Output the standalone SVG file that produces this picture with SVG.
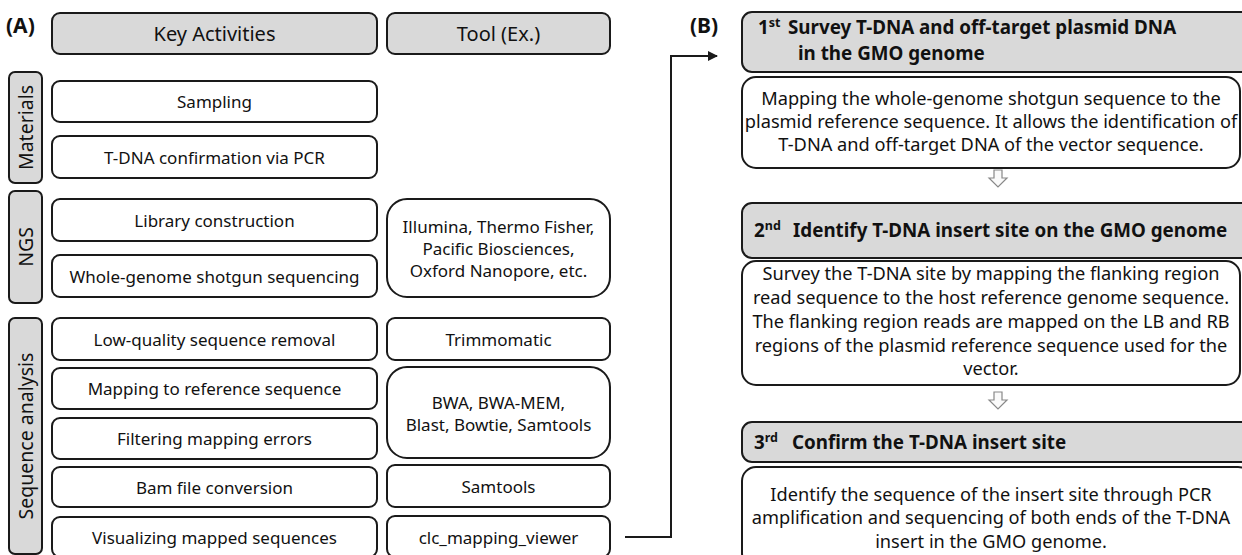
<svg xmlns="http://www.w3.org/2000/svg" width="1242" height="555" viewBox="0 0 1242 555">
<style>
.box{fill:#fff;stroke:#1a1a1a;stroke-width:2}
.hdr{fill:#d9d9d9;stroke:#1a1a1a;stroke-width:2}
.t{font-family:"Noto Sans","Open Sans",sans-serif;font-size:17px;fill:#111;text-anchor:middle;dominant-baseline:central}
.h{font-size:20px}
.c{font-size:19.5px}
.r{font-size:18.2px}
.b{font-family:"Noto Sans","Open Sans",sans-serif;font-size:18.8px;font-weight:bold;fill:#111}
.lbl{font-family:"Noto Sans","Open Sans",sans-serif;font-size:21px;font-weight:bold;fill:#111}
.sup{font-size:12.5px}
.conn{fill:none;stroke:#1a1a1a;stroke-width:2}
.darr{fill:#fafafa;stroke:#888;stroke-width:1.2}
</style>
<defs>
<marker id="ah" viewBox="0 0 10 10" refX="9" refY="5" markerWidth="5" markerHeight="5" orient="auto" markerUnits="strokeWidth">
<path d="M0,0 L10,5 L0,10 z" fill="#1a1a1a"/>
</marker>
</defs>

<text class="lbl" x="6" y="33">(A)</text>
<text class="lbl" x="690" y="33">(B)</text>

<g id="hdr-key"><rect class="hdr" x="52" y="13" width="325" height="41" rx="8"/><text class="t h" x="214.5" y="33.5">Key Activities</text></g>
<g id="hdr-tool"><rect class="hdr" x="387" y="13" width="223" height="41" rx="8"/><text class="t h" x="498.5" y="33.5">Tool (Ex.)</text></g>

<g id="cat-materials"><rect class="hdr" x="9" y="72" width="33" height="111" rx="6"/><text class="t c" transform="translate(25.5,127.5) rotate(-90)">Materials</text></g>
<g id="cat-ngs"><rect class="hdr" x="9" y="191" width="33" height="112" rx="6"/><text class="t c" transform="translate(25.5,247) rotate(-90)">NGS</text></g>
<g id="cat-seq"><rect class="hdr" x="9" y="318" width="33" height="236" rx="6"/><text class="t c" transform="translate(25.5,436) rotate(-90)">Sequence analysis</text></g>

<g id="act-sampling"><rect class="box" x="52" y="81" width="325" height="41" rx="8"/><text class="t" x="214.5" y="101.5">Sampling</text></g>
<g id="act-pcr"><rect class="box" x="52" y="136" width="325" height="42" rx="8"/><text class="t" x="214.5" y="157">T-DNA confirmation via PCR</text></g>
<g id="act-lib"><rect class="box" x="52" y="199" width="325" height="42" rx="8"/><text class="t" x="214.5" y="220">Library construction</text></g>
<g id="act-wgs"><rect class="box" x="52" y="255" width="325" height="42" rx="8"/><text class="t" x="214.5" y="276">Whole-genome shotgun sequencing</text></g>
<g id="act-lowq"><rect class="box" x="52" y="318" width="325" height="42" rx="8"/><text class="t" x="214.5" y="339">Low-quality sequence removal</text></g>
<g id="act-map"><rect class="box" x="52" y="368" width="325" height="41" rx="8"/><text class="t" x="214.5" y="388.5">Mapping to reference sequence</text></g>
<g id="act-filter"><rect class="box" x="52" y="418" width="325" height="41" rx="8"/><text class="t" x="214.5" y="438.5">Filtering mapping errors</text></g>
<g id="act-bam"><rect class="box" x="52" y="467" width="325" height="40" rx="8"/><text class="t" x="214.5" y="487">Bam file conversion</text></g>
<g id="act-vis"><rect class="box" x="52" y="517" width="325" height="40" rx="8"/><text class="t" x="214.5" y="537">Visualizing mapped sequences</text></g>

<g id="tool-ngs"><rect class="box" x="387" y="199" width="223" height="98" rx="20"/>
<text class="t" x="498.5" y="226">Illumina, Thermo Fisher,</text>
<text class="t" x="498.5" y="248">Pacific Biosciences,</text>
<text class="t" x="498.5" y="270">Oxford Nanopore, etc.</text></g>
<g id="tool-trim"><rect class="box" x="387" y="318" width="223" height="42" rx="8"/><text class="t" x="498.5" y="339">Trimmomatic</text></g>
<g id="tool-bwa"><rect class="box" x="387" y="367" width="223" height="91" rx="20"/>
<text class="t" x="498.5" y="402">BWA, BWA-MEM,</text>
<text class="t" x="498.5" y="424">Blast, Bowtie, Samtools</text></g>
<g id="tool-sam"><rect class="box" x="387" y="465" width="223" height="42" rx="8"/><text class="t" x="498.5" y="486">Samtools</text></g>
<g id="tool-clc"><rect class="box" x="387" y="516" width="223" height="41" rx="8"/><text class="t" x="498.5" y="537">clc_mapping_viewer</text></g>

<g id="connectors">
<polyline class="conn" points="625,537 671,537 671,56 717,56" marker-end="url(#ah)"/>
<path class="darr" d="M994,170 h8 v8 h5 l-9,9 l-9,-9 h5 z"/>
<path class="darr" d="M994,392 h8 v8 h5 l-9,9 l-9,-9 h5 z"/>
</g>

<g id="step1-hdr"><rect class="hdr" x="742" y="12" width="520" height="60" rx="10"/>
<text class="b" x="758" y="34">1<tspan class="sup" dy="-7">st</tspan><tspan dy="7" x="788">Survey T-DNA and off-target plasmid DNA</tspan><tspan x="798" dy="26">in the GMO genome</tspan></text></g>
<g id="step1-body"><rect class="box" x="742" y="77" width="498" height="91" rx="14"/>
<text class="t r" x="991" y="98">Mapping the whole-genome shotgun sequence to the</text>
<text class="t r" x="991" y="121">plasmid reference sequence. It allows the identification of</text>
<text class="t r" x="991" y="144">T-DNA and off-target DNA of the vector sequence.</text></g>

<g id="step2-hdr"><rect class="hdr" x="742" y="203" width="520" height="55" rx="10"/>
<text class="b" x="754" y="237">2<tspan class="sup" dy="-7">nd</tspan><tspan dy="7" x="793">Identify T-DNA insert site on the GMO genome</tspan></text></g>
<g id="step2-body"><rect class="box" x="742" y="261" width="498" height="124" rx="14"/>
<text class="t r" x="991" y="273">Survey the T-DNA site by mapping the flanking region</text>
<text class="t r" x="991" y="297">read sequence to the host reference genome sequence.</text>
<text class="t r" x="991" y="321">The flanking region reads are mapped on the LB and RB</text>
<text class="t r" x="991" y="345">regions of the plasmid reference sequence used for the</text>
<text class="t r" x="991" y="368">vector.</text></g>

<g id="step3-hdr"><rect class="hdr" x="742" y="422" width="520" height="40" rx="10"/>
<text class="b" x="754" y="449">3<tspan class="sup" dy="-7">rd</tspan><tspan dy="7" x="792">Confirm the T-DNA insert site</tspan></text></g>
<g id="step3-body"><rect class="box" x="742" y="467" width="510" height="100" rx="14"/>
<text class="t r" x="991" y="494">Identify the sequence of the insert site through PCR</text>
<text class="t r" x="991" y="517">amplification and sequencing of both ends of the T-DNA</text>
<text class="t r" x="991" y="541">insert in the GMO genome.</text></g>
</svg>
